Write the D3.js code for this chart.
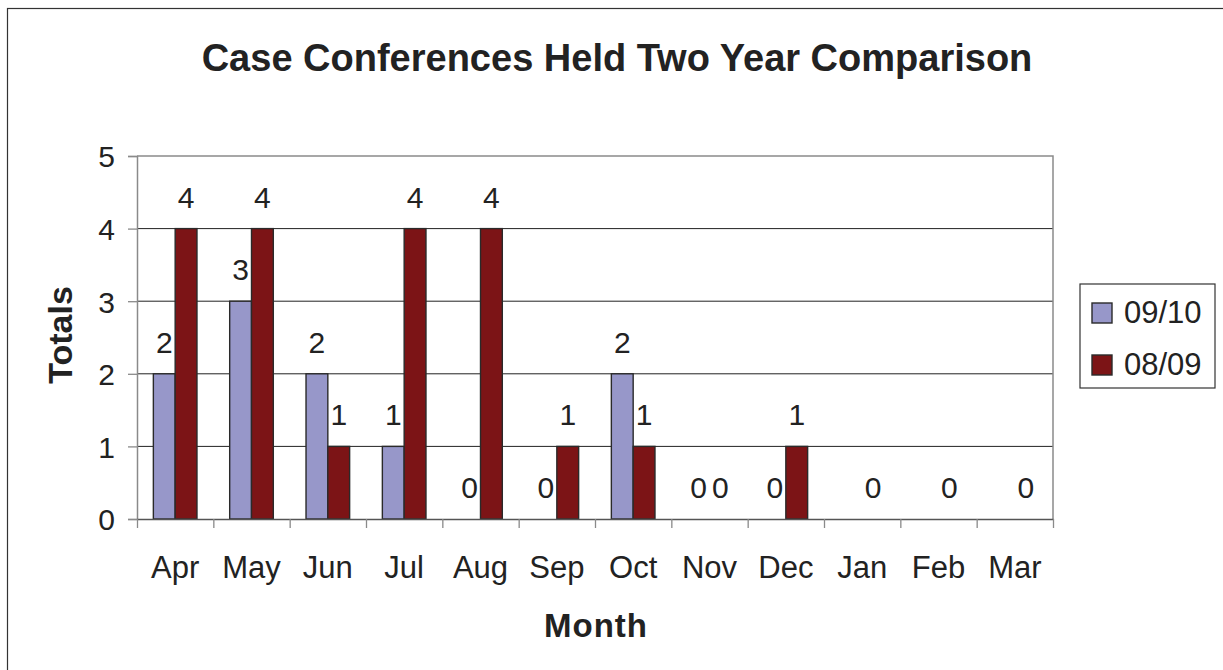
<!DOCTYPE html>
<html>
<head>
<meta charset="utf-8">
<script src="https://cdn.jsdelivr.net/npm/d3@7"></script>
<style>
  body { margin: 0; background: #fff; }
  svg { display: block; font-family: "Liberation Sans", Arial, sans-serif; }
</style>
</head>
<body>
<svg id="chart" width="1223" height="670"></svg>
<script>

var months = ['Apr', 'May', 'Jun', 'Jul', 'Aug', 'Sep', 'Oct', 'Nov', 'Dec', 'Jan', 'Feb', 'Mar'];

var seriesNames = ['09/10', '08/09'];

// null = no value recorded (no bar, no label)
var values0910 = [2, 3, 2, 1, 0, 0, 2, 0, 0, null, null, null];
var values0809 = [4, 4, 1, 4, 4, 1, 1, 0, 1, 0, 0, 0];

var yTicks = [0, 1, 2, 3, 4, 5];

var colors = { '09/10': '#9797c9', '08/09': '#7c1416' };

var svg = d3.select('#chart');

var plot = { left: 137, right: 1053, top: 156, bottom: 519 };

// outer frame of the chart
svg.append('rect')
    .attr('x', 7.5)
    .attr('y', 8.5)
    .attr('width', 1300)
    .attr('height', 800)
    .attr('fill', 'none')
    .attr('stroke', '#333')
    .attr('stroke-width', 1.2);

var x = d3.scaleBand()
    .domain(months)
    .range([plot.left, plot.right]);

var bw = x.bandwidth() / 3.5;

var xInner = d3.scaleBand()
    .domain(seriesNames)
    .range([0.75 * bw, 2.75 * bw]);

var y = d3.scaleLinear()
    .domain([0, 5])
    .range([plot.bottom, plot.top]);

// gridlines
svg.append('g')
    .selectAll('line')
    .data(yTicks.slice(1, -1))
    .enter()
    .append('line')
    .attr('x1', plot.left)
    .attr('x2', plot.right)
    .attr('y1', function(d) { return y(d); })
    .attr('y2', function(d) { return y(d); })
    .attr('stroke', '#222')
    .attr('stroke-width', 1);

// plot border top / right
svg.append('path')
    .attr('d', 'M' + plot.left + ',' + plot.top + 'H' + plot.right + 'V' + plot.bottom)
    .attr('fill', 'none')
    .attr('stroke', '#8a8a8a')
    .attr('stroke-width', 1.5);

var rows = months.map(function(m, i) {
    return { month: m, values: [
        { name: '09/10', value: values0910[i] },
        { name: '08/09', value: values0809[i] }
    ] };
});

var groups = svg.append('g')
    .selectAll('g')
    .data(rows)
    .enter()
    .append('g')
    .attr('transform', function(d) { return 'translate(' + x(d.month) + ',0)'; });

groups.selectAll('rect')
    .data(function(d) { return d.values.filter(function(v) { return v.value > 0; }); })
    .enter()
    .append('rect')
    .attr('x', function(d) { return xInner(d.name); })
    .attr('width', xInner.bandwidth())
    .attr('y', function(d) { return y(d.value); })
    .attr('height', function(d) { return y(0) - y(d.value); })
    .attr('fill', function(d) { return colors[d.name]; })
    .attr('stroke', '#2a2a2a')
    .attr('stroke-width', 1.4);

groups.selectAll('text')
    .data(function(d) { return d.values.filter(function(v) { return v.value !== null; }); })
    .enter()
    .append('text')
    .attr('x', function(d) { return xInner(d.name) + xInner.bandwidth() / 2; })
    .attr('y', function(d) { return y(d.value) - 21; })
    .attr('text-anchor', 'middle')
    .attr('font-size', 30)
    .attr('fill', '#222')
    .text(function(d) { return d.value; });

// y axis
var yAxis = svg.append('g')
    .attr('transform', 'translate(' + plot.left + ',0)')
    .call(d3.axisLeft(y).tickValues(yTicks).tickSize(9).tickPadding(13).tickFormat(d3.format('d')));

yAxis.select('.domain').attr('stroke', '#8a8a8a').attr('stroke-width', 1.5);
yAxis.selectAll('.tick line').attr('stroke', '#8a8a8a').attr('stroke-width', 1.3);
yAxis.selectAll('text')
    .attr('font-size', 30)
    .attr('font-family', '"Liberation Sans", Arial, sans-serif')
    .attr('fill', '#222')
    .attr('dy', '0.36em');

// x axis: ticks on category boundaries
var xEdge = d3.scaleLinear()
    .domain([0, months.length])
    .range([plot.left, plot.right]);

var xAxis = svg.append('g')
    .attr('transform', 'translate(0,' + plot.bottom + ')')
    .call(d3.axisBottom(xEdge).tickValues(d3.range(months.length + 1)).tickSize(9).tickSizeOuter(0).tickFormat(''));

xAxis.select('.domain').attr('stroke', '#555').attr('stroke-width', 1.5);
xAxis.selectAll('.tick line').attr('stroke', '#8a8a8a').attr('stroke-width', 1.3);

svg.append('g')
    .selectAll('text')
    .data(months)
    .enter()
    .append('text')
    .attr('x', function(d) { return x(d) + x.bandwidth() / 2; })
    .attr('y', 578)
    .attr('text-anchor', 'middle')
    .attr('font-size', 31)
    .attr('fill', '#222')
    .text(function(d) { return d; });

// titles
svg.append('text')
    .attr('x', 617)
    .attr('y', 71)
    .attr('text-anchor', 'middle')
    .attr('font-size', 38)
    .attr('font-weight', 'bold')
    .attr('fill', '#222')
    .text('Case Conferences Held Two Year Comparison');

svg.append('text')
    .attr('x', 596)
    .attr('y', 637)
    .attr('text-anchor', 'middle')
    .attr('font-size', 33)
    .attr('font-weight', 'bold')
    .attr('letter-spacing', 1)
    .attr('fill', '#222')
    .text('Month');

svg.append('text')
    .attr('transform', 'translate(72,335) rotate(-90)')
    .attr('text-anchor', 'middle')
    .attr('font-size', 34)
    .attr('font-weight', 'bold')
    .attr('fill', '#222')
    .text('Totals');

// legend
var legend = svg.append('g').attr('transform', 'translate(1080,284)');

legend.append('rect')
    .attr('width', 135)
    .attr('height', 104)
    .attr('fill', '#fff')
    .attr('stroke', '#333')
    .attr('stroke-width', 1.2);

var items = legend.selectAll('g.item')
    .data(seriesNames)
    .enter()
    .append('g')
    .attr('class', 'item')
    .attr('transform', function(d, i) { return 'translate(12,' + (19 + i * 52) + ')'; });

items.append('rect')
    .attr('width', 20)
    .attr('height', 20)
    .attr('fill', function(d) { return colors[d]; })
    .attr('stroke', '#2a2a2a')
    .attr('stroke-width', 1.4);

items.append('text')
    .attr('x', 32)
    .attr('y', 20)
    .attr('font-size', 31)
    .attr('fill', '#222')
    .text(function(d) { return d; });

</script>
</body>
</html>
